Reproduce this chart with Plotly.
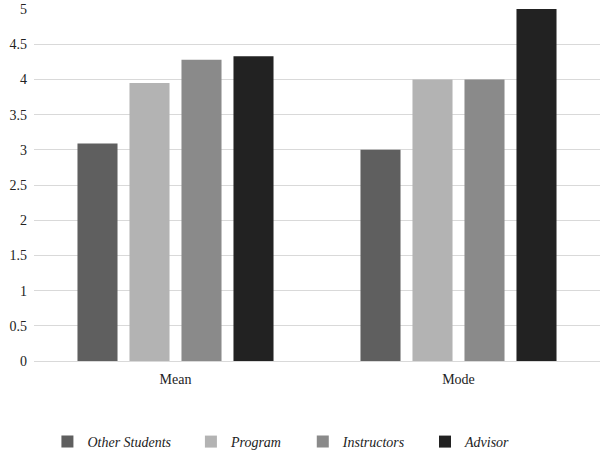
import plotly.graph_objects as go

categories = ["Mean", "Mode"]
series_names = ["Other Students", "Program", "Instructors", "Advisor"]
other_students = [3.09, 3.0]
program = [3.95, 4.0]
instructors = [4.28, 4.0]
advisor = [4.33, 5.0]
y_ticks = [0, 0.5, 1, 1.5, 2, 2.5, 3, 3.5, 4, 4.5, 5]
y_tick_labels = ["0", "0.5", "1", "1.5", "2", "2.5", "3", "3.5", "4", "4.5", "5"]

colors = ["#5f5f5f", "#b3b3b3", "#8a8a8a", "#222222"]
values = [other_students, program, instructors, advisor]
legend_ids = ["legend", "legend2", "legend3", "legend4"]
legend_x = [0.078, 0.314, 0.498, 0.699]

FONT = "'Liberation Serif', 'Times New Roman', serif"

fig = go.Figure()
for name, vals, col, lid in zip(series_names, values, colors, legend_ids):
    fig.add_trace(go.Bar(
        x=categories, y=vals, name=name, marker_color=col,
        marker_line_width=0, legend=lid,
    ))

layout_legends = {}
for lid, lx in zip(legend_ids, legend_x):
    layout_legends[lid] = dict(
        x=lx, y=0.0286, xref="container", yref="container", xanchor="left", yanchor="middle",
        orientation="h", bgcolor="rgba(0,0,0,0)",
        font=dict(family=FONT, size=14, color="#222222", style="italic"),
        itemwidth=30,
    )

fig.update_layout(
    width=608, height=455,
    margin=dict(l=34, r=8, t=9, b=94),
    paper_bgcolor="white", plot_bgcolor="white",
    barmode="group", bargap=0.265, bargroupgap=0.23,
    font=dict(family=FONT, size=14, color="#222222"),
    showlegend=True,
    xaxis=dict(showgrid=False, showline=False, ticks="", ticklabelstandoff=8,
               automargin=False, tickfont=dict(family=FONT, size=14)),
    yaxis=dict(range=[0, 5], tickvals=y_ticks, ticktext=y_tick_labels,
               showgrid=True, gridcolor="#d9d9d9", gridwidth=1,
               zeroline=True, zerolinecolor="#d9d9d9", zerolinewidth=1,
               showline=False, ticks="", ticklabelstandoff=6, automargin=False,
               tickfont=dict(family=FONT, size=14)),
    **layout_legends,
)

fig.write_html("out.html")
